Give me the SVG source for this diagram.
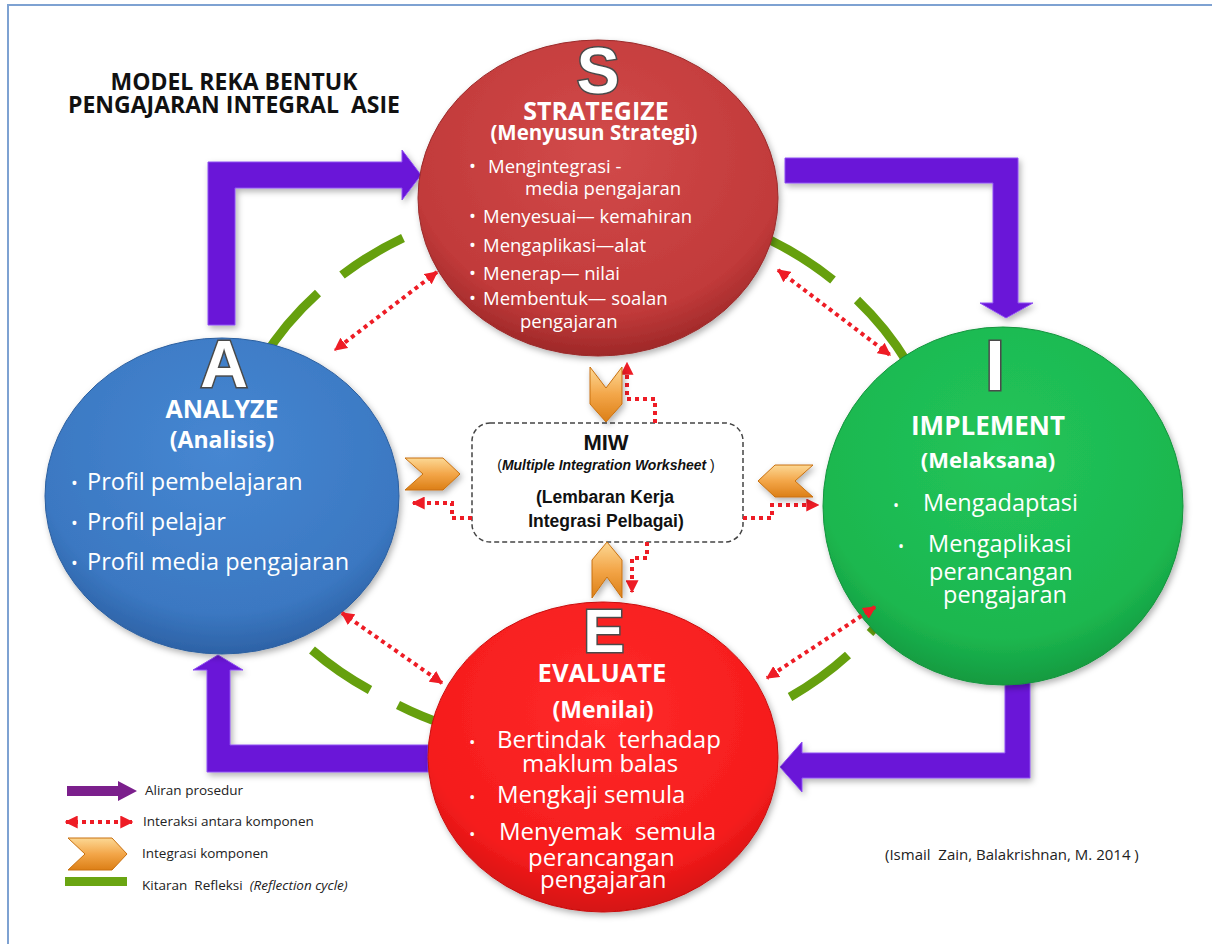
<svg xmlns="http://www.w3.org/2000/svg" width="1212" height="944" viewBox="0 0 1212 944">
<style>
.title{font-family:"Open Sans","Liberation Sans",sans-serif;font-weight:bold;font-size:23px;fill:#111;text-anchor:middle}
.big{font-family:"Liberation Sans",Arial,sans-serif;font-weight:bold;fill:#fff;stroke:#4a4a4a;stroke-width:3;paint-order:stroke fill;text-anchor:middle}
.head{font-family:"Open Sans","Liberation Sans",sans-serif;font-weight:bold;fill:#fff;text-anchor:middle}
.body{font-family:"Open Sans","Liberation Sans",sans-serif;fill:#fff}
.miw{font-family:"Liberation Sans",Arial,sans-serif;fill:#111;text-anchor:middle}
.leg{font-family:"Open Sans","Liberation Sans",sans-serif;font-size:13.5px;fill:#222}
.green{fill:none;stroke:#66a00e;stroke-width:9}
.dot{fill:none;stroke:#ee1c25;stroke-width:4;stroke-dasharray:4 4}
.purple{fill:#6a12d8;stroke:#8e4ef2;stroke-width:1}
.chev{fill:url(#gOr);stroke:#c8700f;stroke-width:1}
</style>
<defs>
<radialGradient id="gS" cx="0.5" cy="0.35" r="0.65"><stop offset="0" stop-color="#d24a4a"/><stop offset="0.8" stop-color="#c13a3a"/><stop offset="1" stop-color="#9e2828"/></radialGradient>
<radialGradient id="gA" cx="0.5" cy="0.35" r="0.65"><stop offset="0" stop-color="#4687d2"/><stop offset="0.8" stop-color="#3b78c2"/><stop offset="1" stop-color="#2d62a6"/></radialGradient>
<radialGradient id="gI" cx="0.5" cy="0.35" r="0.65"><stop offset="0" stop-color="#22c45a"/><stop offset="0.8" stop-color="#1cb74f"/><stop offset="1" stop-color="#139a40"/></radialGradient>
<radialGradient id="gE" cx="0.5" cy="0.35" r="0.65"><stop offset="0" stop-color="#ff2a2a"/><stop offset="0.8" stop-color="#f51c1c"/><stop offset="1" stop-color="#d41212"/></radialGradient>
<linearGradient id="gOr" x1="0" y1="0" x2="0" y2="1"><stop offset="0" stop-color="#fcd894"/><stop offset="0.5" stop-color="#f3a649"/><stop offset="1" stop-color="#dc7f16"/></linearGradient>
<filter id="sh" x="-10%" y="-10%" width="120%" height="125%"><feDropShadow dx="2" dy="3" stdDeviation="3" flood-color="#000" flood-opacity="0.3"/></filter>
<marker id="rh" viewBox="0 0 10 10" refX="9" refY="5" markerWidth="13" markerHeight="13" markerUnits="userSpaceOnUse" orient="auto-start-reverse"><path d="M0,0 L10,5 L0,10 z" fill="#ee1c25"/></marker>
</defs>
<rect x="8" y="5" width="1230" height="960" fill="#fff" stroke="#7ea2d2" stroke-width="2"/>
<g id="title">
<text class="title" x="234" y="90">MODEL REKA BENTUK</text>
<text class="title" x="234" y="113" xml:space="preserve">PENGAJARAN INTEGRAL  ASIE</text>
</g>
<g id="reflection-cycle">
<path class="green" d="M262,360 A340 300 0 0 1 318,293"/>
<path class="green" d="M342,275 A340 300 0 0 1 403,238"/>
<path class="green" d="M770,240 A340 300 0 0 1 833,280"/>
<path class="green" d="M857,300 A340 300 0 0 1 907,362"/>
<path class="green" d="M900,596 A340 300 0 0 1 870,633"/>
<path class="green" d="M848,655 A340 300 0 0 1 790,697"/>
<path class="green" d="M446,725 A340 300 0 0 1 398,705"/>
<path class="green" d="M370,690 A340 300 0 0 1 312,650"/>
</g>
<g id="procedure-flow" filter="url(#sh)">
<polygon class="purple" points="208,325 208,162 402,162 402,150 421,175 402,200 402,188 235,188 235,325"/>
<polygon class="purple" points="785,158 1018,158 1018,303 1033,303 1006,318 980,303 993,303 993,183 785,183"/>
<polygon class="purple" points="1005,660 1030,660 1030,778 802,778 802,792 780,767 802,742 802,753 1005,753"/>
<polygon class="purple" points="428,745 230,745 230,670 243,670 218,655 193,670 207,670 207,772 428,772"/>
</g>
<g id="node-S">
<ellipse cx="598" cy="198" rx="180" ry="158" fill="url(#gS)" stroke="#9a2a2a" stroke-width="1" filter="url(#sh)"/>
<text class="big" x="598" y="93" font-size="64">S</text>
<text class="head" x="596" y="120" font-size="25">STRATEGIZE</text>
<text class="head" x="594" y="140" font-size="20.5">(Menyusun Strategi)</text>
<g class="body" font-size="18.5">
<text x="469" y="173">•</text><text x="488" y="173">Mengintegrasi -</text>
<text x="525" y="195">media pengajaran</text>
<text x="469" y="223">•</text><text x="483" y="223">Menyesuai— kemahiran</text>
<text x="469" y="252">•</text><text x="483" y="252">Mengaplikasi—alat</text>
<text x="469" y="280">•</text><text x="483" y="280">Menerap— nilai</text>
<text x="469" y="305">•</text><text x="483" y="305">Membentuk— soalan</text>
<text x="520" y="328">pengajaran</text>
</g>
</g>
<g id="node-A">
<ellipse cx="222" cy="496" rx="177" ry="158" fill="url(#gA)" stroke="#2c5f9f" stroke-width="1" filter="url(#sh)"/>
<text class="big" x="224" y="387" font-size="66">A</text>
<text class="head" x="222" y="418" font-size="25">ANALYZE</text>
<text class="head" x="222" y="448" font-size="23">(Analisis)</text>
<g class="body" font-size="23.5">
<text x="71" y="490" font-size="18">•</text><text x="87" y="490">Profil pembelajaran</text>
<text x="71" y="530" font-size="18">•</text><text x="87" y="530">Profil pelajar</text>
<text x="71" y="570" font-size="18">•</text><text x="87" y="570">Profil media pengajaran</text>
</g>
</g>
<g id="node-I">
<ellipse cx="1003" cy="506" rx="180" ry="179" fill="url(#gI)" stroke="#13943d" stroke-width="1" filter="url(#sh)"/>
<text class="big" x="995" y="390" font-size="70">I</text>
<text class="head" x="988" y="435" font-size="26">IMPLEMENT</text>
<text class="head" x="988" y="468" font-size="22">(Melaksana)</text>
<g class="body" font-size="23.5">
<text x="893" y="511" font-size="16">•</text><text x="923" y="511">Mengadaptasi</text>
<text x="898" y="552" font-size="16">•</text><text x="928" y="552">Mengaplikasi</text>
<text x="929" y="580">perancangan</text>
<text x="943" y="603">pengajaran</text>
</g>
</g>
<g id="node-E">
<ellipse cx="603" cy="757" rx="175" ry="155" fill="url(#gE)" stroke="#c81010" stroke-width="1" filter="url(#sh)"/>
<text class="big" x="604" y="652" font-size="62">E</text>
<text class="head" x="602" y="682" font-size="25.5">EVALUATE</text>
<text class="head" x="603" y="718" font-size="23">(Menilai)</text>
<g class="body" font-size="24">
<text x="469" y="748" font-size="17">•</text><text x="497" y="748" xml:space="preserve">Bertindak  terhadap</text>
<text x="522" y="772">maklum balas</text>
<text x="469" y="803" font-size="17">•</text><text x="497" y="803">Mengkaji semula</text>
<text x="469" y="840" font-size="17">•</text><text x="499" y="840" xml:space="preserve">Menyemak  semula</text>
<text x="528" y="866">perancangan</text>
<text x="540" y="888">pengajaran</text>
</g>
</g>
<g id="node-MIW">
<rect x="472" y="423" width="271" height="119" rx="18" fill="#fff" stroke="#444" stroke-width="1.5" stroke-dasharray="5 3"/>
<text class="miw" x="606" y="450" font-size="22" font-weight="bold">MIW</text>
<text class="miw" x="606" y="470" font-size="14">(<tspan font-style="italic" font-weight="bold">Multiple Integration Worksheet</tspan> )</text>
<text class="miw" x="605" y="503" font-size="17.5" font-weight="bold">(Lembaran Kerja</text>
<text class="miw" x="606" y="527" font-size="17.5" font-weight="bold">Integrasi Pelbagai)</text>
</g>
<g id="connectors">
<line class="dot" x1="437" y1="272" x2="335" y2="350" marker-start="url(#rh)" marker-end="url(#rh)"/>
<line class="dot" x1="778" y1="270" x2="890" y2="355" marker-start="url(#rh)" marker-end="url(#rh)"/>
<line class="dot" x1="342" y1="613" x2="442" y2="683" marker-start="url(#rh)" marker-end="url(#rh)"/>
<line class="dot" x1="875" y1="607" x2="767" y2="678" marker-start="url(#rh)" marker-end="url(#rh)"/>
<polyline class="dot" points="655,423 655,399 627,399 627,363" marker-end="url(#rh)"/>
<polyline class="dot" points="472,518 452,518 452,503 413,503" marker-end="url(#rh)"/>
<polyline class="dot" points="743,518 772,518 772,505 818,505" marker-end="url(#rh)"/>
<polyline class="dot" points="647,542 647,558 632,558 632,592" marker-end="url(#rh)"/>
<g filter="url(#sh)">
<polygon class="chev" points="590,367 606,388 622,367 622,404 606,422 590,404"/>
<polygon class="chev" points="592,598 607,577 622,598 622,560 607,542 592,560"/>
<polygon class="chev" points="405,458 443,458 460,474 443,490 405,490 423,474"/>
<polygon class="chev" points="813,465 775,465 758,481 775,497 813,497 795,481"/>
</g>
</g>
<g id="legend">
<polygon points="67,786 118,786 118,781 137,791 118,801 118,796 67,796" fill="#7b1f8c"/>
<text class="leg" x="145" y="795">Aliran prosedur</text>
<line class="dot" x1="66" y1="822" x2="132" y2="822" marker-start="url(#rh)" marker-end="url(#rh)"/>
<text class="leg" x="143" y="826">Interaksi antara komponen</text>
<polygon class="chev" points="68,838 112,838 127,854 112,870 68,870 85,854"/>
<text class="leg" x="142" y="858">Integrasi komponen</text>
<rect x="65" y="877" width="62" height="9" fill="#6aa512"/>
<text class="leg" x="142" y="890" xml:space="preserve">Kitaran  Refleksi  <tspan font-style="italic">(Reflection cycle)</tspan></text>
</g>
<text id="citation" x="885" y="860" font-family="Open Sans, Liberation Sans, sans-serif" font-size="15" fill="#222" xml:space="preserve">(Ismail  Zain, Balakrishnan, M. 2014 )</text>
</svg>
